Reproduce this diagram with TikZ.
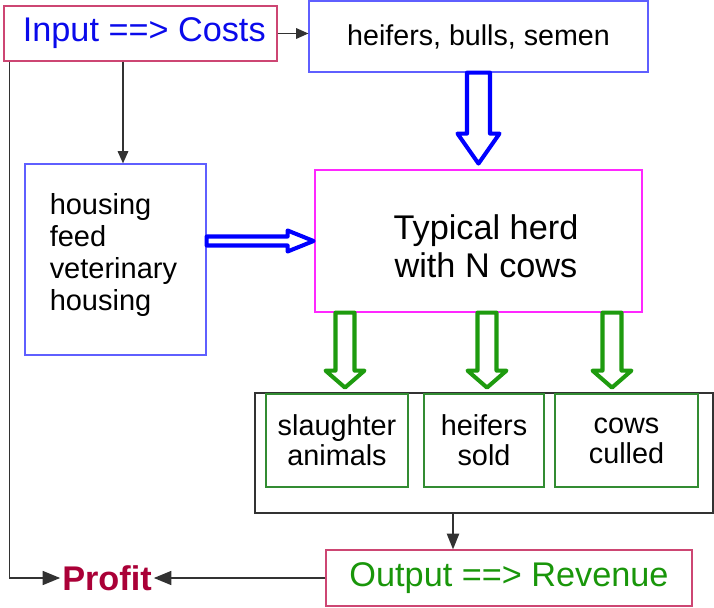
\documentclass[tikz,border=0pt]{standalone}
\usepackage{fontspec}
\setmainfont{Liberation Sans}
\usetikzlibrary{arrows.meta,calc}

\definecolor{costblue}{RGB}{10,10,235}
\definecolor{boxblue}{RGB}{95,95,255}
\definecolor{crimsonline}{RGB}{205,70,115}
\definecolor{herdpink}{RGB}{255,40,255}
\definecolor{boxgreen}{RGB}{50,140,50}
\definecolor{arrowgreen}{RGB}{30,155,15}
\definecolor{revgreen}{RGB}{25,150,10}
\definecolor{profitred}{RGB}{170,0,55}
\definecolor{linegray}{RGB}{50,50,50}

\tikzset{
  box/.style={draw, rectangle, inner sep=0pt, line width=0.7pt},
  soldbox/.style={box, draw=boxgreen, minimum height=1.86cm, align=center,
                  font=\fontsize{16.4}{17}\selectfont},
  link/.style={draw=linegray, line width=0.9pt, ->},
  bigarrow/.style={line width=2.3pt, line join=round, fill=white}
}

\begin{document}
\begin{tikzpicture}[x=0.02cm, y=-0.02cm, >={Triangle[length=7pt,width=6pt]}]
    \useasboundingbox (0,0) rectangle (714,608);

    % Kosten
    \node[box, draw=crimsonline, minimum width=5.46cm, minimum height=1.1cm,
          text=costblue, font=\fontsize{19.5}{22}\selectfont] (input) at (140.5,33.5) {\hspace{0.15cm}Input ==> Costs};
    \node[box, draw=boxblue, minimum width=6.78cm, minimum height=1.42cm,
          font=\fontsize{16.3}{19}\selectfont] (heif) at (478.5,36.5) {heifers, bulls, semen};
    \node[box, draw=boxblue, minimum width=3.62cm, minimum height=3.82cm] (housing) at (115.5,259.5) {};
    \node[anchor=west, inner sep=0pt, align=left, font=\fontsize{16.5}{18.1}\selectfont]
          (housingtxt) at ($(housing.west)+(25,-4.5)$) {housing\\feed\\veterinary\\housing};

    % Herde
    \node[box, draw=herdpink, minimum width=6.54cm, minimum height=2.84cm, align=center,
          font=\fontsize{19.5}{21.5}\selectfont] (herd) at (478.5,241)
          {\\[-0.05cm]\hspace{0.3cm}Typical herd\\\hspace{0.3cm}with N cows};

    % Verkauf
    \node[box, draw=linegray, minimum width=9.16cm, minimum height=2.4cm] (sold) at (484,453) {};
    \node[soldbox, minimum width=2.84cm] (slaughter) at (337,440.5) {slaughter\\animals};
    \node[soldbox, minimum width=2.4cm] (heifsold) at (484,440.5) {heifers\\sold};
    \node[soldbox, minimum width=2.86cm] (culled) at (626.5,440.5) {cows\\culled};

    % Ertrag
    \node[box, draw=crimsonline, minimum width=7.32cm, minimum height=1.12cm,
          text=revgreen, font=\fontsize{19.5}{22}\selectfont] (output) at (509,578) {Output ==> Revenue};
    \node[inner sep=1pt, text=profitred, font=\bfseries\fontsize{19.5}{22}\selectfont] (profit) at (107,578) {Profit};

    % Verbindungen
    \draw[link] (input.east) -- (input.east -| heif.west);
    \draw[link] ([xshift=0.15cm]input.south -| housing.north) -- ([xshift=0.15cm]housing.north);
    \draw[link, -{Triangle[length=10pt,width=8pt]}] ([xshift=0.12cm]input.south west) |- (profit.west);
    \draw[link, -{Triangle[length=10pt,width=8pt]}] (output.west) -- (profit.east);
    \draw[link, -{Triangle[length=9pt,width=7pt]}] ([xshift=-0.62cm]sold.south) -- ([xshift=-0.62cm]sold.south |- output.north);

    % Blockpfeile
    \draw[bigarrow, draw=blue] ($(heif.south)+(-11.5,0)$) -- ++(0,61) -- ++(-9.5,0) -- ++(21,30)
        -- ++(21,-30) -- ++(-9.5,0) -- ++(0,-61) -- cycle;
    \draw[bigarrow, draw=blue] ($(housing.east |- herd.west)+(0,-4.5)$) -- ++(81,0) -- ++(0,-6)
        -- ++(26,10.5) -- ++(-26,10.5) -- ++(0,-6) -- ++(-81,0) -- cycle;
    \foreach \dx in {-133.5, 8.5, 133.5}
        \draw[bigarrow, draw=arrowgreen] ($(herd.south)+(\dx-9.5,0)$) -- ++(0,58) -- ++(-10,0)
            -- ++(19.5,17) -- ++(19.5,-17) -- ++(-10,0) -- ++(0,-58) -- cycle;

\end{tikzpicture}
\end{document}
